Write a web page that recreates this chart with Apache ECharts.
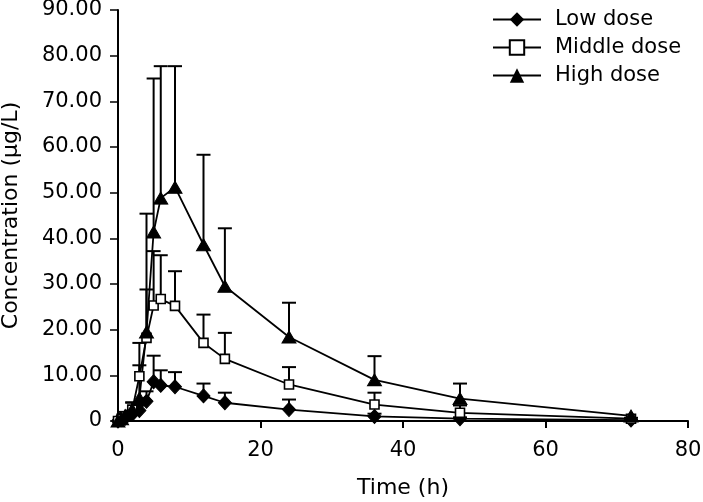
<!DOCTYPE html>
<html>
<head>
<meta charset="utf-8">
<script src="https://cdn.jsdelivr.net/npm/echarts@6/dist/echarts.min.js"></script>
<style>html,body{margin:0;padding:0;background:#fff}#c{width:703px;height:502px}</style>
</head>
<body>
<div id="c"></div>
<script>
// Sampling times (h)
const times = [0, 0.5, 1, 2, 3, 4, 5, 6, 8, 12, 15, 24, 36, 48, 72];
// Mean concentrations (µg/L)
const lowMean    = [0, 0.3, 0.6, 1.5, 2.3, 4.3, 8.6, 7.8, 7.5, 5.5, 4.0, 2.5, 1.0, 0.5, 0.2];
const middleMean = [0, 0.5, 1.0, 2.5, 9.8, 18.2, 25.3, 26.7, 25.2, 17.1, 13.6, 8.0, 3.6, 1.8, 0.5];
const highMean   = [0, 0.5, 1.2, 2.5, 5.0, 19.5, 41.4, 48.8, 51.2, 38.6, 29.5, 18.4, 9.0, 4.9, 1.1];
// Standard deviations (upper error bars)
const lowSD    = [0, 0.2, 0.4, 0.8, 1.2, 2.2, 5.7, 3.3, 3.2, 2.7, 2.2, 2.2, 0.6, 0.3, 0.1];
const middleSD = [0, 0.3, 0.6, 1.5, 7.3, 10.6, 11.9, 9.6, 7.6, 6.2, 5.7, 3.8, 2.6, 1.6, 0.2];
const highSD   = [0, 0.3, 0.8, 1.6, 7.2, 25.9, 33.6, 28.9, 26.5, 19.7, 12.7, 7.5, 5.2, 3.3, 0];
// Axis ticks
const xTicks = [0, 20, 40, 60, 80];
const yTicks = [0, 10, 20, 30, 40, 50, 60, 70, 80, 90];
const seriesNames = ['Low dose', 'Middle dose', 'High dose'];

const FONT = 'DejaVu Sans';
const chart = echarts.init(document.getElementById('c'), null, {renderer: 'canvas'});

function pairs(mean) { return times.map((t, i) => [t, mean[i]]); }
function errData(mean, sd) { return times.map((t, i) => [t, mean[i], sd[i]]); }

function errRender(params, api) {
  const x = api.value(0), y = api.value(1), sd = api.value(2);
  if (!sd) return null;
  const p0 = api.coord([x, y]);
  const p1 = api.coord([x, y + sd]);
  const hw = 7;
  return {
    type: 'group',
    children: [
      {type: 'line', shape: {x1: p0[0], y1: p0[1], x2: p1[0], y2: p1[1]}, style: {stroke: '#000', lineWidth: 2}},
      {type: 'line', shape: {x1: p1[0] - hw, y1: p1[1], x2: p1[0] + hw, y2: p1[1]}, style: {stroke: '#000', lineWidth: 2}}
    ]
  };
}

function errSeries(mean, sd) {
  return {
    type: 'custom', renderItem: errRender, data: errData(mean, sd),
    z: 1, silent: true, clip: false,
    encode: {x: 0, y: 1}
  };
}

const lineBase = {
  type: 'line', z: 3, clip: false, animation: false,
  lineStyle: {color: '#000', width: 1.8},
  itemStyle: {color: '#000', borderColor: '#000'}
};

const option = {
  animation: false,
  backgroundColor: '#fff',
  grid: {left: 118, right: 15, top: 10, bottom: 81, containLabel: false, outerBoundsMode: 'none'},
  legend: {
    data: seriesNames,
    orient: 'vertical',
    left: 492, top: 9, padding: 0,
    itemWidth: 48, itemHeight: 18, itemGap: 7,
    textStyle: {fontFamily: FONT, fontSize: 21, color: '#000', lineHeight: 18, padding: [0, 0, 0, 9]}
  },
  xAxis: {
    type: 'value', min: xTicks[0], max: xTicks[xTicks.length - 1], interval: 20,
    name: 'Time (h)', nameLocation: 'middle', nameGap: 56,
    nameTextStyle: {fontFamily: FONT, fontSize: 22, color: '#000'},
    axisLine: {show: true, lineStyle: {color: '#000', width: 2}},
    axisTick: {show: true, length: 7, lineStyle: {color: '#000', width: 2}},
    axisLabel: {fontFamily: FONT, fontSize: 21, color: '#000', margin: 19},
    splitLine: {show: false}
  },
  yAxis: {
    type: 'value', min: yTicks[0], max: yTicks[yTicks.length - 1], interval: 10,
    name: 'Concentration (μg/L)', nameLocation: 'middle', nameGap: 96,
    nameTextStyle: {fontFamily: FONT, fontSize: 22, color: '#000'},
    axisLine: {show: true, lineStyle: {color: '#000', width: 2}},
    axisTick: {show: true, length: 8, lineStyle: {color: '#000', width: 1.5}},
    axisLabel: {fontFamily: FONT, fontSize: 21, color: '#000', margin: 16,
      formatter: v => v === 0 ? '0' : v.toFixed(2)},
    splitLine: {show: false}
  },
  series: [
    errSeries(lowMean, lowSD),
    errSeries(middleMean, middleSD),
    errSeries(highMean, highSD),
    Object.assign({}, lineBase, {
      name: seriesNames[0], data: pairs(lowMean),
      symbol: 'diamond', symbolSize: [13, 14], showAllSymbol: true
    }),
    Object.assign({}, lineBase, {
      name: seriesNames[1], data: pairs(middleMean),
      symbol: 'rect', symbolSize: 9, showAllSymbol: true,
      itemStyle: {color: '#fff', borderColor: '#000', borderWidth: 1.6}
    }),
    Object.assign({}, lineBase, {
      name: seriesNames[2], data: pairs(highMean),
      symbol: 'triangle', symbolSize: [14, 12], showAllSymbol: true
    })
  ]
};
chart.setOption(option);
</script>
</body>
</html>
